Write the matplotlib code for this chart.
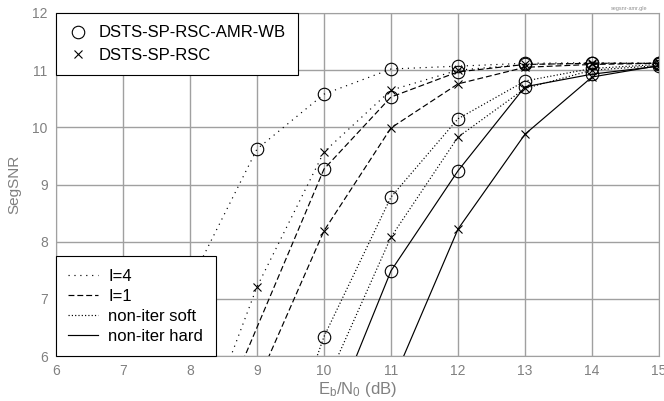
import matplotlib
matplotlib.use("Agg")
import matplotlib.pyplot as plt
from matplotlib.lines import Line2D

plt.rcParams['font.family'] = ['Liberation Sans', 'DejaVu Sans']
plt.rcParams['mathtext.fontset'] = 'custom'
plt.rcParams['mathtext.rm'] = 'Liberation Sans'
plt.rcParams['mathtext.it'] = 'Liberation Sans'

# Eb/N0 (dB) and SegSNR values
i4_amr_x = [8, 9, 10, 11, 12, 13, 14, 15]
i4_amr = [7.28, 9.62, 10.58, 11.02, 11.07, 11.12, 11.13, 11.12]
i4_rsc_x = [8, 9, 10, 11, 12, 13, 14, 15]
i4_rsc = [4.1, 7.21, 9.57, 10.65, 11.0, 11.1, 11.12, 11.12]
i1_amr_x = [8, 10, 11, 12, 13, 14, 15]
i1_amr = [3.73, 9.27, 10.53, 10.97, 11.1, 11.12, 11.12]
i1_rsc_x = [9, 10, 11, 12, 13, 14, 15]
i1_rsc = [5.52, 8.19, 9.99, 10.76, 11.05, 11.1, 11.12]
soft_amr_x = [9, 10, 11, 12, 13, 14, 15]
soft_amr = [3.0, 6.34, 8.78, 10.15, 10.81, 11.03, 11.1]
soft_rsc_x = [10, 11, 12, 13, 14, 15]
soft_rsc = [5.45, 8.08, 9.83, 10.68, 11.0, 11.08]
hard_amr_x = [10, 11, 12, 13, 14, 15]
hard_amr = [4.6, 7.49, 9.24, 10.71, 10.93, 11.07]
hard_rsc_x = [11, 12, 13, 14, 15]
hard_rsc = [5.48, 8.22, 9.88, 10.88, 11.08]

xticks = [6, 7, 8, 9, 10, 11, 12, 13, 14, 15]
yticks = [6, 7, 8, 9, 10, 11, 12]

styles = {
    'I=4': (0, (1, 4)),
    'I=1': (0, (5, 2.5)),
    'non-iter soft': (0, (1, 1.8)),
    'non-iter hard': '-',
}

fig = plt.figure(figsize=(6.64, 4.01), dpi=100)
ax = fig.add_axes([0.0843, 0.1122, 0.9082, 0.8554])

lw = 0.85
circ = dict(marker='o', ms=9, mfc='none', mec='black', mew=0.8)
cross = dict(marker='x', ms=6, mec='black', mew=0.8)

ax.plot(i4_amr_x, i4_amr, color='black', lw=lw, ls=styles['I=4'], **circ)
ax.plot(i4_rsc_x, i4_rsc, color='black', lw=lw, ls=styles['I=4'], **cross)
ax.plot(i1_amr_x, i1_amr, color='black', lw=lw, ls=styles['I=1'], **circ)
ax.plot(i1_rsc_x, i1_rsc, color='black', lw=lw, ls=styles['I=1'], **cross)
ax.plot(soft_amr_x, soft_amr, color='black', lw=lw, ls=styles['non-iter soft'], **circ)
ax.plot(soft_rsc_x, soft_rsc, color='black', lw=lw, ls=styles['non-iter soft'], **cross)
ax.plot(hard_amr_x, hard_amr, color='black', lw=lw, ls=styles['non-iter hard'], **circ)
ax.plot(hard_rsc_x, hard_rsc, color='black', lw=lw, ls=styles['non-iter hard'], **cross)

ax.set_xlim(6, 15)
ax.set_ylim(6, 12)
ax.set_xticks(xticks)
ax.set_yticks(yticks)
ax.grid(True, color='#a0a0a0', lw=1)
ax.set_axisbelow(True)
for s in ax.spines.values():
    s.set_color('#a0a0a0')
ax.tick_params(length=0, labelsize=10, labelcolor='#808080', pad=6)
ax.set_xlabel(r'E$_\mathrm{b}$/N$_0$ (dB)', fontsize=12, color='#808080', labelpad=1)
ax.set_ylabel('SegSNR', fontsize=11, color='#808080', labelpad=8)

mk_handles = [
    Line2D([], [], ls='none', **circ),
    Line2D([], [], ls='none', **cross),
]
leg1 = ax.legend(mk_handles, ['DSTS-SP-RSC-AMR-WB', 'DSTS-SP-RSC'],
                 loc='upper left', borderaxespad=0, fontsize=12, fancybox=False,
                 edgecolor='black', framealpha=1, handlelength=1.2,
                 handletextpad=0.6, labelspacing=0.45, borderpad=0.75)
leg1.get_frame().set_linewidth(0.8)
ax.add_artist(leg1)

ls_handles = [Line2D([], [], color='black', lw=lw, ls=v) for v in styles.values()]
leg2 = ax.legend(ls_handles, list(styles.keys()), loc='lower left',
                 borderaxespad=0, fontsize=12, fancybox=False, edgecolor='black',
                 framealpha=1, handlelength=1.8, handletextpad=0.6,
                 labelspacing=0.3, borderpad=0.75)
leg2.get_frame().set_linewidth(0.8)

fig.text(0.975, 0.985, 'segsnr-amr.gle', fontsize=4, color='#909090',
         ha='right', va='top')

fig.savefig('out.png', dpi=100)
